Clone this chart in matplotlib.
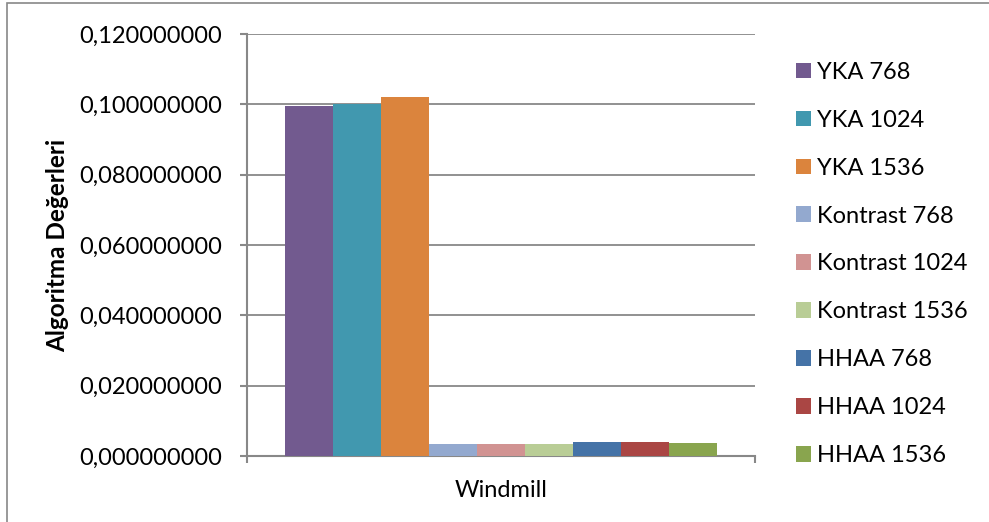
import matplotlib.pyplot as plt
from matplotlib.patches import Rectangle
from matplotlib.ticker import FuncFormatter, MultipleLocator

plt.rcParams['font.family'] = ['Lato', 'DejaVu Sans']

# values
category = 'Windmill'
series = ['YKA 768', 'YKA 1024', 'YKA 1536',
          'Kontrast 768', 'Kontrast 1024', 'Kontrast 1536',
          'HHAA 768', 'HHAA 1024', 'HHAA 1536']
values = [0.0996, 0.1001, 0.1021,
          0.0034, 0.0034, 0.0034,
          0.0040, 0.0040, 0.0037]
colors = ['#725A8F', '#4198AF', '#DB843D',
          '#93A9CF', '#D19392', '#B9CD96',
          '#4573A7', '#AA4644', '#89A54E']

axis_gray = '#888888'


def main():
    fig = plt.figure(figsize=(9.89, 5.22), dpi=100)
    ax = fig.add_axes([247 / 989, 1 - 456 / 522, (755 - 247) / 989, (456 - 34) / 522])

    # one category, nine bars side by side
    group = 0.851
    w = group / len(series)
    start = -group / 2 + w / 2
    for i, (name, val, col) in enumerate(zip(series, values, colors)):
        ax.bar(start + i * w, val, width=w, color=col, label=name, zorder=3)

    ax.set_xlim(-0.5, 0.5)
    ax.set_ylim(0, 0.12)
    ax.yaxis.set_major_locator(MultipleLocator(0.02))
    ax.yaxis.set_major_formatter(FuncFormatter(lambda v, p: f'{v:.9f}'.replace('.', ',')))
    ax.grid(axis='y', color=axis_gray, linewidth=1.3, zorder=0)

    for s in ['top', 'right']:
        ax.spines[s].set_visible(False)
    for s in ['left', 'bottom']:
        ax.spines[s].set_color(axis_gray)
        ax.spines[s].set_linewidth(1.5)

    ax.set_xticks([-0.5, 0.5])
    ax.set_xticklabels(['', ''])
    ax.set_xticks([0], minor=True)
    ax.set_xticklabels([category], minor=True)
    ax.tick_params(axis='x', which='major', direction='out', length=5, color=axis_gray, width=1.5)
    ax.tick_params(axis='x', which='minor', length=0, pad=17, labelsize=17)
    ax.tick_params(axis='y', direction='out', length=5, color=axis_gray, width=1.5,
                   labelsize=17, pad=13)

    ax.set_ylabel('Algoritma Değerleri', fontsize=17.5, fontweight='bold', labelpad=7)

    fig.legend(loc='center left', bbox_to_anchor=(796 / 989, 1 - 264 / 522),
               frameon=False, fontsize=17, handlelength=0.64, handleheight=0.64,
               handletextpad=0.25, labelspacing=1.14, borderaxespad=0, borderpad=0)

    # outer chart frame (only left and top edges fall inside the picture)
    fig.patches.append(Rectangle((7 / 989, -0.1), 1.2, 1.1 - 3 / 522, transform=fig.transFigure,
                                 fill=False, edgecolor=axis_gray, linewidth=1.2))

    fig.savefig('out.png', dpi=100)


if __name__ == '__main__':
    main()
